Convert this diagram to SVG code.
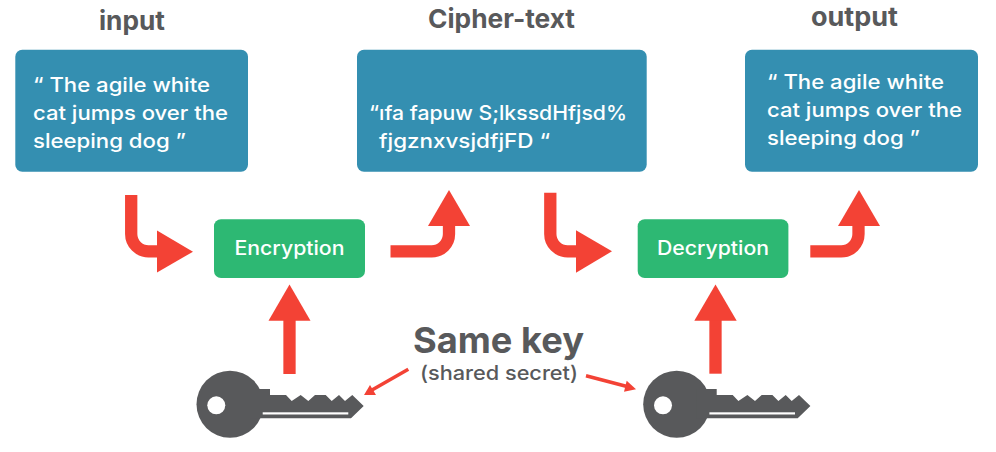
<svg xmlns="http://www.w3.org/2000/svg" width="996" height="452" viewBox="0 0 996 452">
<style>
text{font-family:"Inter","Liberation Sans",sans-serif}
.t{font-size:26px;font-weight:700;fill:#58595b}
.b{font-size:20px;font-weight:500;fill:#fff}
.n{font-size:19.5px;font-weight:500;fill:#fff}
.box{fill:#348fb1}
.g{fill:#2db873}
.wire{fill:none;stroke:#f34235;stroke-width:12.3}
.head{fill:#f34235}
.thin{fill:none;stroke:#f34235;stroke-width:3.6}
.key{fill:#58595b}
.slit{fill:#fff}
</style>
<defs>
<g id="keyshape">
<circle class="key" cx="230" cy="404.3" r="33.5"/>
<path class="key" d="M250 389H270V395H286L291.7 401L300.7 395L308.3 401L315 395H325.7L331.7 401L339 395L345 401L352.3 395L363.7 406L351 418.3H250Z"/>
<circle class="slit" cx="216.3" cy="405.3" r="9"/>
<rect class="slit" x="262.7" y="412.3" width="85.6" height="2.2"/>
</g>
</defs>
<g id="connectors">
<path class="wire" d="M131.2 195V234A17.3 17.3 0 0 0 148.5 251.3H160"/>
<polygon class="head" points="157,230.5 193,251.7 157,272.5"/>
<path class="wire" d="M390.5 251.3H431.6A17.3 17.3 0 0 0 449 234V222"/>
<polygon class="head" points="428,226 449,190 470,226"/>
<path class="wire" d="M550.3 192.7V234A17.3 17.3 0 0 0 567.6 251.3H580"/>
<polygon class="head" points="576,230.3 612,251.3 576,272.7"/>
<path class="wire" d="M810.3 251.4H841.2A17.3 17.3 0 0 0 858.5 234V222"/>
<polygon class="head" points="838,226 859,190 880,226"/>
<path class="wire" d="M289.5 374V316"/>
<polygon class="head" points="268.5,320.7 289.5,284.5 310.5,320.7"/>
<path class="wire" d="M715.5 373.7V316"/>
<polygon class="head" points="694.3,320.7 715.5,284.5 736.7,320.7"/>
<path class="thin" d="M408.3 369.3L372 390"/>
<polygon class="head" points="364,395 370,385 376,395"/>
<path class="thin" d="M586 375.7L628 386.8"/>
<polygon class="head" points="636,389.3 626.7,380.7 624,391.7"/>
</g>
<g id="input-label"><text class="t" x="99" y="30" textLength="66" lengthAdjust="spacingAndGlyphs">input</text></g>
<g id="cipher-label"><text class="t" x="428" y="28" textLength="147" lengthAdjust="spacingAndGlyphs">Cipher-text</text></g>
<g id="output-label"><text class="t" x="811" y="26" textLength="87" lengthAdjust="spacingAndGlyphs">output</text></g>
<g id="input">
<rect class="box" x="15.3" y="49.7" width="232.7" height="122" rx="7"/>
<text class="b" x="33" y="92" textLength="177" lengthAdjust="spacingAndGlyphs">“ The agile white</text>
<text class="b" x="33" y="120" textLength="195" lengthAdjust="spacingAndGlyphs">cat jumps over the</text>
<text class="b" x="33" y="148" textLength="153" lengthAdjust="spacingAndGlyphs">sleeping dog ”</text>
</g>
<g id="cipher">
<rect class="box" x="357" y="49.7" width="289.7" height="122" rx="7"/>
<text class="b" x="369" y="120" textLength="258" lengthAdjust="spacingAndGlyphs">“ıfa fapuw S;lkssdHfjsd%</text>
<text class="b" x="379" y="148" textLength="171" lengthAdjust="spacingAndGlyphs">fjgznxvsjdfjFD “</text>
</g>
<g id="output">
<rect class="box" x="745" y="49.7" width="233" height="122" rx="7"/>
<text class="b" x="767" y="89" textLength="177" lengthAdjust="spacingAndGlyphs">“ The agile white</text>
<text class="b" x="767" y="117" textLength="195" lengthAdjust="spacingAndGlyphs">cat jumps over the</text>
<text class="b" x="767" y="145" textLength="153" lengthAdjust="spacingAndGlyphs">sleeping dog ”</text>
</g>
<g id="encryption">
<rect class="g" x="214" y="219.3" width="151" height="58.7" rx="7"/>
<text class="n" x="234.5" y="255" textLength="110" lengthAdjust="spacingAndGlyphs">Encryption</text>
</g>
<g id="decryption">
<rect class="g" x="637.7" y="219.3" width="150.7" height="58.7" rx="7"/>
<text class="n" x="657" y="255" textLength="112" lengthAdjust="spacingAndGlyphs">Decryption</text>
</g>
<g id="key-left"><use href="#keyshape"/></g>
<g id="key-right"><use href="#keyshape" x="446.7"/></g>
<g id="same-key">
<text x="413" y="353" style="font-size:36px;font-weight:700;fill:#58595b" textLength="171" lengthAdjust="spacingAndGlyphs">Same key</text>
<text x="420" y="380" style="font-size:20px;font-weight:500;fill:#58595b" textLength="158" lengthAdjust="spacingAndGlyphs">(shared secret)</text>
</g>
</svg>
